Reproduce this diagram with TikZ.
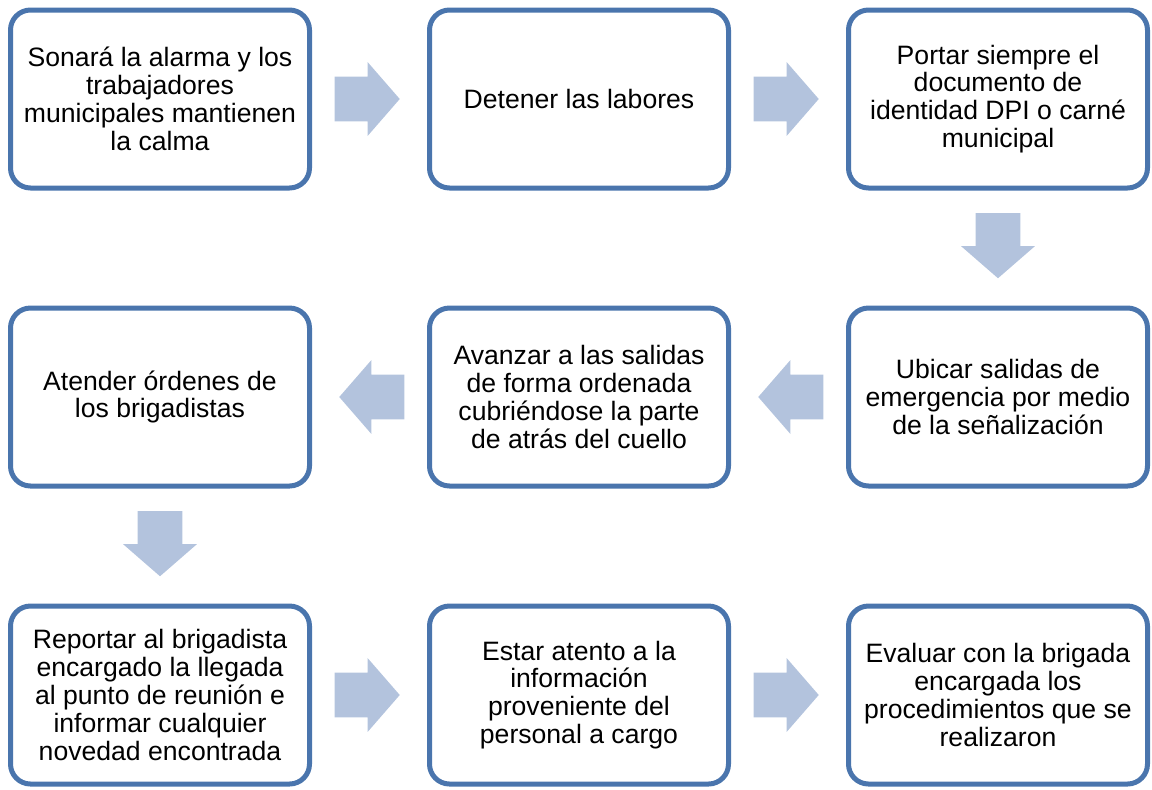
\documentclass[tikz,border=0pt]{standalone}
\usepackage{fontspec}
\setmainfont{Liberation Sans}
\usetikzlibrary{positioning, shapes.arrows, calc}
\definecolor{bordeazul}{RGB}{74,117,173}
\definecolor{flechaazul}{RGB}{179,195,221}

\begin{document}
\begin{tikzpicture}[
  node distance=57.5pt,
  paso/.style={draw=bordeazul, line width=2.5pt, rounded corners=10pt, fill=white, align=center, minimum width=149.5pt, minimum height=89pt, inner sep=0pt, font=\fontsize{13.3}{13.9}\selectfont},
  flecha/.style={single arrow, fill=flechaazul, draw=none, inner sep=0pt, text height=22pt, text depth=0pt, minimum height=32.5pt, single arrow head extend=7.25pt, single arrow tip angle=98},
  flechader/.style={flecha, xshift=-6pt},
  flechaizq/.style={flecha, xshift=6pt, rotate=180},
  flechaabajo/.style={flecha, yshift=6pt, rotate=-90}
]
\useasboundingbox (0,0) rectangle (576pt,-394.5pt);
\node[paso] (alarma) at (80pt,-49.5pt) {Sonará la alarma y los\\trabajadores\\municipales mantienen\\la calma};
\node[paso, right=of alarma] (detener) {Detener las labores};
\node[paso, right=of detener] (portar) {Portar siempre el\\documento de\\identidad DPI o carné\\municipal};
\node[paso, below=of portar] (ubicar) {Ubicar salidas de\\emergencia por medio\\de la señalización};
\node[paso, left=of ubicar] (avanzar) {Avanzar a las salidas\\de forma ordenada\\cubriéndose la parte\\de atrás del cuello};
\node[paso, left=of avanzar] (atender) {Atender órdenes de\\los brigadistas};
\node[paso, below=of atender] (reportar) {Reportar al brigadista\\encargado la llegada\\al punto de reunión e\\informar cualquier\\novedad encontrada};
\node[paso, right=of reportar] (atento) {Estar atento a la\\información\\proveniente del\\personal a cargo};
\node[paso, right=of atento] (evaluar) {Evaluar con la brigada\\encargada los\\procedimientos que se\\realizaron};

\node[flechader] (f1) at ($(alarma.east)!0.5!(detener.west)$) {};
\node[flechader] (f2) at ($(detener.east)!0.5!(portar.west)$) {};
\node[flechaabajo] (f3) at ($(portar.south)!0.5!(ubicar.north)$) {};
\node[flechaizq] (f4) at ($(ubicar.west)!0.5!(avanzar.east)$) {};
\node[flechaizq] (f5) at ($(avanzar.west)!0.5!(atender.east)$) {};
\node[flechaabajo] (f6) at ($(atender.south)!0.5!(reportar.north)$) {};
\node[flechader] (f7) at ($(reportar.east)!0.5!(atento.west)$) {};
\node[flechader] (f8) at ($(atento.east)!0.5!(evaluar.west)$) {};
\end{tikzpicture}
\end{document}
